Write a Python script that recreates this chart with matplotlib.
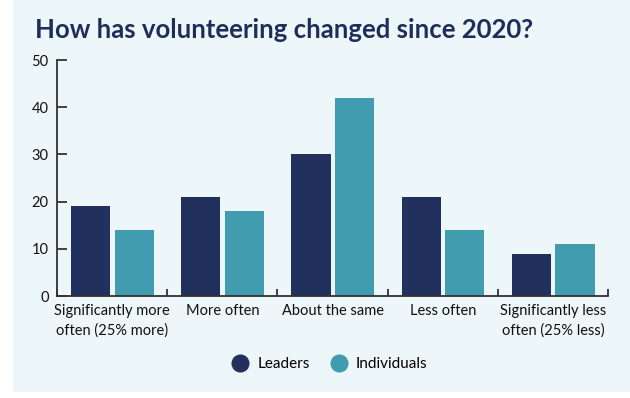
import numpy as np
import matplotlib

matplotlib.use("Agg")
import matplotlib.pyplot as plt
from matplotlib.patches import Rectangle
from matplotlib.lines import Line2D

categories = ["Significantly more\noften (25% more)", "More often", "About the same",
              "Less often", "Significantly less\noften (25% less)"]
leaders = [19, 21, 30, 21, 9]
individuals = [14, 18, 42, 14, 11]
series_names = ["Leaders", "Individuals"]
y_ticks = [0, 10, 20, 30, 40, 50]

navy = "#22305e"
teal = "#409cae"
panel = "#edf6f8"
axis_col = "#333333"

plt.rcParams["font.family"] = ["Lato", "DejaVu Sans"]

fig = plt.figure(figsize=(6.3, 3.98), dpi=100)
fig.patches.append(Rectangle((13 / 630, 6 / 398), 1, 1, transform=fig.transFigure,
                             facecolor=panel, edgecolor="none", zorder=-10))

ax = fig.add_axes([57 / 630, 102 / 398, 551 / 630, 236 / 398])
ax.set_facecolor("none")

x = np.arange(len(categories))
w = 0.355
ax.bar(x - 0.195, leaders, w, color=navy, zorder=2)
ax.bar(x + 0.2, individuals, w, color=teal, zorder=2)

ax.set_xlim(-0.5, len(categories) - 0.5)
ax.set_ylim(0, 50)
ax.set_yticks(y_ticks)
ax.tick_params(axis="y", direction="in", length=7, width=1.3, color=axis_col,
               labelsize=10.5, pad=6, labelcolor="#111111")
ax.set_xticks(np.arange(len(categories) + 1) - 0.5)
ax.set_xticklabels([])
ax.tick_params(axis="x", direction="in", length=5, width=1.3, color=axis_col)
for i, c in enumerate(categories):
    ax.text(i, -1.7, c, ha="center", va="top", fontsize=10.5, color="#111111",
            linespacing=1.45)

for s in ["top", "right"]:
    ax.spines[s].set_visible(False)
for s in ["left", "bottom"]:
    ax.spines[s].set_color(axis_col)
    ax.spines[s].set_linewidth(1.3)

fig.text(35 / 630, 1 - 30 / 398, "How has volunteering changed since 2020?",
         fontsize=18.5, fontweight="bold", color="#1f2d5a", va="center")

handles = [Line2D([], [], marker="o", linestyle="none", markersize=12,
                  markerfacecolor=c, markeredgecolor=c) for c in (navy, teal)]
fig.legend(handles, series_names, loc="center", bbox_to_anchor=(326 / 630, 1 - 364 / 398),
           ncol=2, frameon=False, fontsize=11, handletextpad=0.15, columnspacing=0.9)

fig.savefig("out.png", dpi=100)
